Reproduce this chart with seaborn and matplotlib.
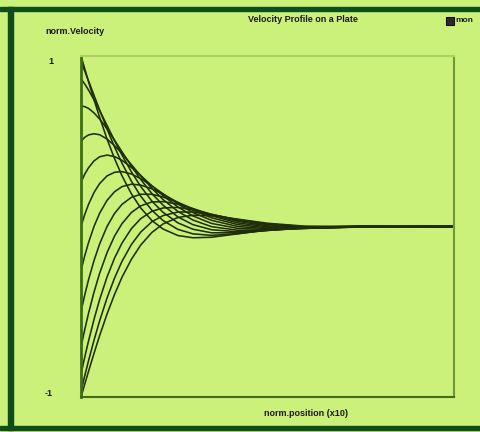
import matplotlib
matplotlib.use("Agg")
import matplotlib.pyplot as plt
from matplotlib.patches import Rectangle
from matplotlib.transforms import ScaledTranslation
import pandas as pd
import seaborn as sns

# normalised position along the plate (axis shows position x10)
pos = [0, 0.01, 0.02, 0.035, 0.05, 0.07, 0.09, 0.11, 0.135, 0.16,
       0.19, 0.22, 0.26, 0.30, 0.35, 0.42, 0.50, 0.60, 0.75, 1.00]

# normalised velocity profiles, one per phase of the plate oscillation (15 deg steps)
vel_000 = [1.0, 0.925, 0.851, 0.743, 0.640, 0.512, 0.398, 0.297, 0.192, 0.109,
           0.035, -0.015, -0.053, -0.066, -0.063, -0.043, -0.019, -0.002, 0.003, 0.0]
vel_015 = [0.966, 0.912, 0.855, 0.769, 0.683, 0.571, 0.466, 0.371, 0.266, 0.178,
           0.095, 0.035, -0.017, -0.043, -0.052, -0.042, -0.022, -0.005, 0.002, 0.0]
vel_030 = [0.866, 0.836, 0.801, 0.743, 0.680, 0.592, 0.503, 0.419, 0.321, 0.235,
           0.149, 0.083, 0.021, -0.016, -0.037, -0.037, -0.023, -0.007, 0.001, 0.0]
vel_045 = [0.707, 0.703, 0.693, 0.666, 0.630, 0.572, 0.506, 0.438, 0.354, 0.276,
           0.193, 0.125, 0.056, 0.011, -0.019, -0.031, -0.023, -0.009, 0.0, 0.0]
vel_060 = [0.5, 0.523, 0.537, 0.544, 0.538, 0.513, 0.474, 0.428, 0.363, 0.298,
           0.224, 0.158, 0.088, 0.038, -0.001, -0.022, -0.021, -0.011, -0.001, 0.0]
vel_075 = [0.259, 0.307, 0.344, 0.385, 0.409, 0.419, 0.410, 0.388, 0.347, 0.299,
           0.239, 0.181, 0.114, 0.062, 0.018, -0.011, -0.018, -0.011, -0.001, 0.0]
vel_090 = [0.0, 0.070, 0.129, 0.200, 0.252, 0.297, 0.318, 0.322, 0.308, 0.281,
           0.238, 0.192, 0.132, 0.082, 0.036, 0.0, -0.013, -0.011, -0.002, 0.0]
vel_105 = [-0.259, -0.172, -0.096, 0.001, 0.078, 0.154, 0.204, 0.234, 0.248, 0.243,
           0.221, 0.189, 0.141, 0.096, 0.051, 0.011, -0.008, -0.010, -0.003, 0.0]
vel_120 = [-0.5, -0.402, -0.314, -0.199, -0.102, 0.001, 0.077, 0.130, 0.171, 0.189,
           0.189, 0.173, 0.141, 0.104, 0.063, 0.021, -0.002, -0.008, -0.003, 0.0]
vel_135 = [-0.707, -0.605, -0.511, -0.384, -0.274, -0.152, -0.056, 0.017, 0.082, 0.121,
           0.144, 0.146, 0.131, 0.105, 0.070, 0.030, 0.004, -0.006, -0.004, 0.0]
vel_150 = [-0.866, -0.766, -0.673, -0.544, -0.428, -0.295, -0.185, -0.097, -0.013, 0.046,
           0.089, 0.109, 0.112, 0.098, 0.072, 0.037, 0.010, -0.003, -0.004, 0.0]
vel_165 = [-0.966, -0.876, -0.789, -0.666, -0.553, -0.418, -0.302, -0.204, -0.106, -0.033,
           0.028, 0.064, 0.085, 0.085, 0.070, 0.041, 0.015, -0.001, -0.003, 0.0]
vel_180 = [-1.0, -0.925, -0.851, -0.743, -0.640, -0.512, -0.398, -0.297, -0.193, -0.109,
           -0.035, 0.015, 0.053, 0.066, 0.063, 0.043, 0.019, 0.002, -0.003, 0.0]

profiles = [vel_000, vel_015, vel_030, vel_045, vel_060, vel_075, vel_090,
            vel_105, vel_120, vel_135, vel_150, vel_165, vel_180]

title = "Velocity Profile on a Plate"
y_label = "norm.Velocity"
x_label = "norm.position (x10)"
y_ticks = [-1, 1]
y_tick_labels = ["-1", "1"]
x_ticks = [0, 1]

rows = []
for i, prof in enumerate(profiles):
    for p, v in zip(pos, prof):
        rows.append({"curve": i, "pos": p, "vel": v})
df = pd.DataFrame(rows)

BG = "#ccf17a"
DARK = "#0f4d1c"
LINE = "#1e2e08"

sns.set_theme(style="white")
plt.rcParams["font.family"] = ["Liberation Sans", "DejaVu Sans"]

W, H = 480, 432
fig = plt.figure(figsize=(W / 100, H / 100), dpi=100, facecolor=BG)

# frame around the panel
fig.patches.append(Rectangle((0, 1 - 11 / H), 1, 4 / H, transform=fig.transFigure,
                             color=DARK, zorder=0))
fig.patches.append(Rectangle((8 / W, 2 / H), 5 / W, 1 - 9 / H, transform=fig.transFigure,
                             color=DARK, zorder=0))
fig.patches.append(Rectangle((0, 2 / H), 1, 4 / H, transform=fig.transFigure,
                             color=DARK, zorder=0))

left, right, top, bottom = 81, 454, 56, 397
ax = fig.add_axes([left / W, 1 - bottom / H, (right - left) / W, (bottom - top) / H])
ax.set_facecolor(BG)

sns.lineplot(data=df, x="pos", y="vel", units="curve", estimator=None,
             color=LINE, linewidth=1.15, ax=ax, legend=False)

ax.set_xlim(0, 1)
ax.set_ylim(-1, 1)

for side, col, lw in [("left", "#3f6d1c", 2.0), ("bottom", "#3f6d1c", 1.5),
                      ("top", "#a9d462", 1.5), ("right", "#6c9a35", 1.5)]:
    ax.spines[side].set_color(col)
    ax.spines[side].set_linewidth(lw)

ax.set_yticks(y_ticks)
ax.set_yticklabels(y_tick_labels, fontsize=6.5, fontweight="bold", color="#1a1a1a")
ax.tick_params(axis="y", length=0, pad=20)
# nudge the end labels inward a little
for lab, dy in zip(ax.get_yticklabels(), [4, -4]):
    lab.set_transform(lab.get_transform() + ScaledTranslation(0, dy / 100, fig.dpi_scale_trans))
ax.set_xticks(x_ticks)
ax.set_xticklabels([])
ax.tick_params(axis="x", length=10, width=2, color="#2f5a14", direction="out")

ax.set_xlabel(x_label, fontsize=6.5, fontweight="bold", color="#1a1a1a")
ax.xaxis.set_label_coords((306 - left) / (right - left), -(413 - bottom) / (bottom - top))
ax.xaxis.label.set_va("center")
ax.set_ylabel("")

fig.text(303 / W, 1 - 20 / H, title, ha="center", va="center",
         fontsize=6.5, fontweight="bold", color="#1a1a1a")
fig.text(45 / W, 1 - 32 / H, y_label, ha="left", va="center",
         fontsize=6.5, fontweight="bold", color="#1a1a1a")

# small window icon in the top-right corner
fig.patches.append(Rectangle((446 / W, 1 - 25 / H), 8 / W, 8 / H, transform=fig.transFigure,
                             facecolor="#2a2a2a", edgecolor="#111111", lw=0.8, zorder=3))
fig.text(455 / W, 1 - 21 / H, "mon", ha="left", va="center",
         fontsize=6, fontweight="bold", color="#1a1a1a")

fig.savefig("out.png", dpi=100, facecolor=BG)
